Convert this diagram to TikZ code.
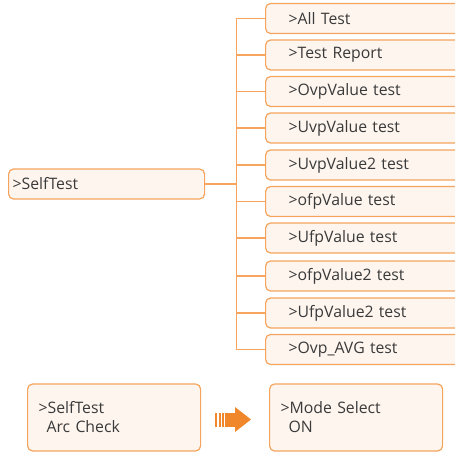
\documentclass[tikz,border=0pt]{standalone}
\usepackage{fontspec}
\setmainfont{Open Sans}
\definecolor{obrd}{HTML}{F5A45D}
\definecolor{ofill}{HTML}{FDF5EE}
\definecolor{oline}{HTML}{F7A55E}
\definecolor{oarrow}{HTML}{F0872A}
\definecolor{txt}{HTML}{3A3A3A}
\begin{document}
\begin{tikzpicture}[x=1pt,y=-1pt,
  menubox/.style={draw=obrd, fill=ofill, line width=1.2pt, rounded corners=5pt,
    anchor=west, inner ysep=0pt, minimum height=30pt, text=txt,
    font=\fontsize{15.8}{19}\selectfont, align=left},
  rbox/.style={menubox, inner xsep=23pt, text width=182pt},
  conn/.style={draw=oline, line width=1.2pt}
]
\useasboundingbox (0,0) rectangle (455,452);
\node[menubox, inner xsep=4pt, text width=188pt] (sel) at (8,184) {>SelfTest};
\node[rbox] (b1) at (265,18.5) {>All Test};
\node[rbox] (b2) at (265,55) {>Test Report};
\node[rbox] (b3) at (265,91.5) {>OvpValue test};
\node[rbox] (b4) at (265,128) {>UvpValue test};
\node[rbox] (b5) at (265,165) {>UvpValue2 test};
\node[rbox] (b6) at (265,201.5) {>ofpValue test};
\node[rbox] (b7) at (265,238) {>UfpValue test};
\node[rbox] (b8) at (265,276) {>ofpValue2 test};
\node[rbox] (b9) at (265,313) {>UfpValue2 test};
\node[rbox] (b10) at (265,349.5) {>Ovp\_AVG test};
\foreach \i in {1,...,10} {
  \draw[conn] (sel.east) -- ++(31,0) |- (b\i.west);
}
\node[menubox, minimum height=67pt, inner xsep=11pt, text width=151pt] (s1) at (27,417.5) {>SelfTest\\\hspace*{8pt}Arc Check};
\node[menubox, minimum height=67pt, inner xsep=11pt, text width=151pt] (s2) at (269,417.5) {>Mode Select\\\hspace*{8pt}ON};
\fill[oarrow] (215,412.5) rectangle (217,426.5);
\fill[oarrow] (218.5,412.5) rectangle (220.5,426.5);
\fill[oarrow] (222,412.5) rectangle (224,426.5);
\fill[oarrow] (225,412.5) rectangle (236,426.5);
\fill[oarrow] (235,407) -- (251,419.5) -- (235,432) -- cycle;
\end{tikzpicture}
\end{document}
